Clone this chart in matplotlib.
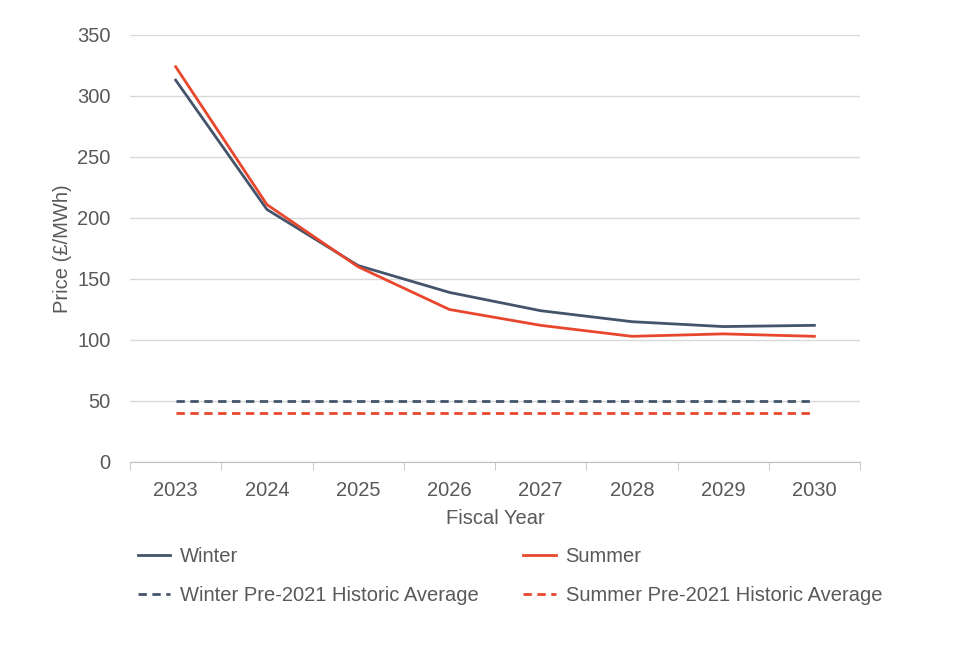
import matplotlib
matplotlib.use("Agg")
import matplotlib.pyplot as plt
from matplotlib.lines import Line2D

years = [2023, 2024, 2025, 2026, 2027, 2028, 2029, 2030]
winter = [313, 207, 161, 139, 124, 115, 111, 112]
summer = [324, 211, 160, 125, 112, 103, 105, 103]
winter_hist = 50
summer_hist = 40

wc = "#44546a"
sc = "#e8472e"
tc = "#595959"
plt.rcParams['font.family'] = ['Liberation Sans', 'DejaVu Sans']

fig = plt.figure(figsize=(9.59, 6.54), dpi=100)
ax = fig.add_axes([0.1356, 0.2936, 0.7612, 0.6529])
ax.plot(years, winter, color=wc, lw=2)
ax.plot(years, summer, color=sc, lw=2)
ax.plot(years, [winter_hist]*len(years), color=wc, lw=2, ls=(0, (3, 2)))
ax.plot(years, [summer_hist]*len(years), color=sc, lw=2, ls=(0, (3, 2)))
ax.set_xlim(2022.5, 2030.5)
ax.set_ylim(0, 350)
ax.set_yticks(range(0, 351, 50))
ax.set_xticks(years)
ax.yaxis.grid(True, color="#d9d9d9", lw=1)
ax.set_axisbelow(True)
for s in ["top", "right", "left"]:
    ax.spines[s].set_visible(False)
ax.spines["bottom"].set_color("#bfbfbf")
ax.tick_params(axis="y", length=0, labelsize=14.5, colors=tc, pad=14)
ax.tick_params(axis="x", labelsize=14.5, colors=tc, pad=14)
ax.set_xticks([2022.5 + i for i in range(9)], minor=True)
ax.tick_params(axis="x", which="major", length=0)
ax.tick_params(axis="x", which="minor", length=6, color="#bfbfbf")
ax.set_ylabel("Price (£/MWh)", fontsize=14.5, color=tc, labelpad=4)
ax.set_xlabel("Fiscal Year", fontsize=14.5, color=tc, labelpad=6)

handles = [Line2D([], [], color=wc, lw=2), Line2D([], [], color=wc, lw=2, ls=(0, (3, 2))),
           Line2D([], [], color=sc, lw=2), Line2D([], [], color=sc, lw=2, ls=(0, (3, 2)))]
labels = ["Winter", "Winter Pre-2021 Historic Average", "Summer", "Summer Pre-2021 Historic Average"]
leg = fig.legend(handles, labels, ncol=2, loc="upper left", bbox_to_anchor=(0.125, 0.192),
                 frameon=False, fontsize=14.5, labelcolor=tc, handlelength=1.6, handletextpad=0.5,
                 columnspacing=2.2, labelspacing=1.0)
fig.savefig("out.png", dpi=100)
